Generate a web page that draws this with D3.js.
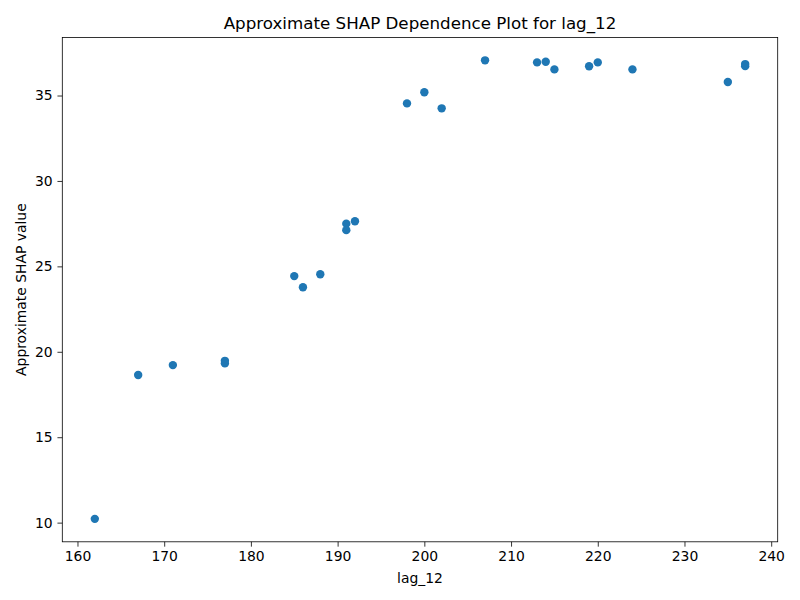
<!DOCTYPE html>
<html>
<head>
<meta charset="utf-8">
<script src="https://cdn.jsdelivr.net/npm/d3@7"></script>
<style>
  html, body { margin: 0; padding: 0; background: #fff; }
  svg { display: block; font-family: "DejaVu Sans", sans-serif; }
</style>
</head>
<body>
<svg id="chart" width="800" height="600"></svg>
<script>
const lagValues = [162, 167, 171, 177, 177, 185, 186, 188, 191, 191, 192, 198, 200, 202, 207, 213, 214, 215, 219, 220, 224, 235, 237, 237];
const shapValues = [10.22, 18.64, 19.22, 19.47, 19.32, 24.43, 23.78, 24.54, 27.50, 27.12, 27.64, 34.54, 35.19, 34.25, 37.06, 36.94, 36.98, 36.53, 36.71, 36.94, 36.53, 35.79, 36.84, 36.72];
const xTicks = [160, 170, 180, 190, 200, 210, 220, 230, 240];
const yTicks = [10, 15, 20, 25, 30, 35];

(function () {
const svg = d3.select("#chart");
const pLeft = 62.3, pRight = 777.7, pTop = 37.4, pBottom = 541.8;

function padded(vals) {
  const [a, b] = d3.extent(vals);
  const m = (b - a) * 0.05;
  return [a - m, b + m];
}

const x = d3.scaleLinear().domain(padded(lagValues)).range([pLeft, pRight]);
const y = d3.scaleLinear().domain(padded(shapValues)).range([pBottom, pTop]);

const tickLen = 4.86, tickPad = 4.86, fs = "13.9px";

const xAxis = svg.append("g")
  .attr("transform", `translate(0,${pBottom})`)
  .call(d3.axisBottom(x).tickValues(xTicks).tickFormat(d3.format("d")).tickSize(tickLen).tickPadding(tickPad));
const yAxis = svg.append("g")
  .attr("transform", `translate(${pLeft},0)`)
  .call(d3.axisLeft(y).tickValues(yTicks).tickFormat(d3.format("d")).tickSize(tickLen).tickPadding(tickPad));

[xAxis, yAxis].forEach(g => {
  g.select(".domain").remove();
  g.selectAll(".tick line").attr("stroke", "#000").attr("stroke-width", 0.8);
  g.selectAll(".tick text").attr("fill", "#000").style("font-size", fs).style("font-family", "DejaVu Sans, sans-serif");
});

const data = lagValues.map((v, i) => ({ x: v, y: shapValues[i] }));
svg.append("g").selectAll("circle").data(data).join("circle")
  .attr("cx", d => x(d.x))
  .attr("cy", d => y(d.y))
  .attr("r", 4.2)
  .attr("fill", "#1f77b4");

svg.append("rect")
  .attr("x", pLeft).attr("y", pTop)
  .attr("width", pRight - pLeft).attr("height", pBottom - pTop)
  .attr("fill", "none").attr("stroke", "#000").attr("stroke-width", 0.8);

svg.append("text")
  .attr("x", (pLeft + pRight) / 2).attr("y", 29)
  .attr("text-anchor", "middle")
  .style("font-size", "16.7px")
  .text("Approximate SHAP Dependence Plot for lag_12");

svg.append("text")
  .attr("x", (pLeft + pRight) / 2).attr("y", 583)
  .attr("text-anchor", "middle")
  .style("font-size", fs)
  .text("lag_12");

svg.append("text")
  .attr("transform", `translate(26,${(pTop + pBottom) / 2}) rotate(-90)`)
  .attr("text-anchor", "middle")
  .style("font-size", fs)
  .text("Approximate SHAP value");
})();
</script>
</body>
</html>
